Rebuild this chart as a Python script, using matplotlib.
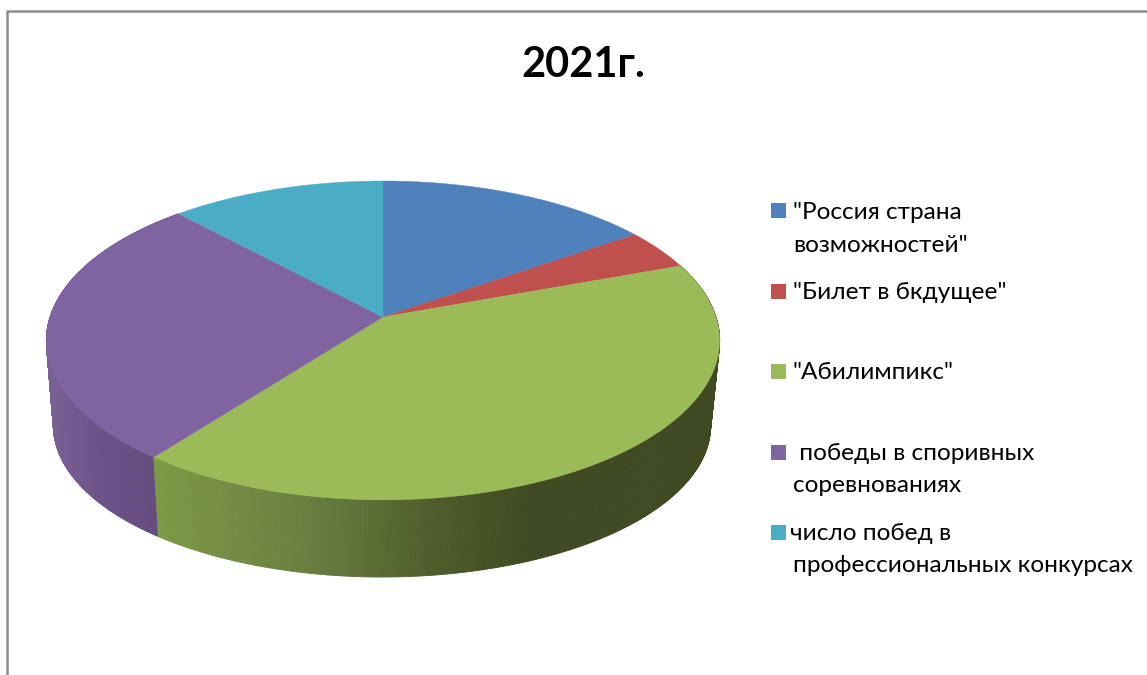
import numpy as np
import matplotlib
matplotlib.use("Agg")
import matplotlib.pyplot as plt
from matplotlib.collections import PolyCollection
from matplotlib.colors import to_rgb
from matplotlib.patches import Rectangle

title = "2021г."
categories = ['"Россия страна\nвозможностей"', '"Билет в бкдущее"', '"Абилимпикс"',
              ' победы в споривных\nсоревнованиях', 'число побед в\nпрофессиональных конкурсах']
values = [15.3, 4.1, 41.0, 27.7, 11.9]
colors = ['#4f81bd', '#c0504d', '#9bbb59', '#8064a2', '#4bacc6']

FONT = ['Lato', 'Open Sans', 'DejaVu Sans']
W, H = 1147, 675
fig = plt.figure(figsize=(W / 100, H / 100), dpi=100)
ax = fig.add_axes([0, 0, 1, 1])
ax.set_xlim(0, W); ax.set_ylim(H, 0); ax.axis('off')

CX, CY, A, B, K = 383.0, 317.0, 333.0, 156.0, 0.147
CX2, CY2, A2, B2 = 382.0, 403.5, 325.0, 148.0

def project(theta, r=1.0, cx=CX, cy=CY, a=A, b=B):
    u, v = r * np.sin(theta), r * np.cos(theta)
    d = 1 + K * v
    return cx + a * u / d, cy - b * v / d

side_stops = {
    2: ([152, 300, 430, 530, 720], ['#7d9a45', '#6b8040', '#4f5d2b', '#3f4a22', '#3f4a22']),
    3: ([46, 100, 157], ['#7a6296', '#6c5287', '#654c80']),
}

def side_color(i, x):
    xs, cs = side_stops[i]
    rgb = np.array([to_rgb(c) for c in cs])
    return tuple(np.interp(x, xs, rgb[:, k]) for k in range(3))

edges = np.cumsum([0] + values) / sum(values) * 2 * np.pi

for i in (3, 2):
    ts = np.linspace(edges[i], edges[i + 1], 400)
    polys, cols = [], []
    for t0, t1 in zip(ts[:-1], ts[1:]):
        x0, y0 = project(t0); x1, y1 = project(t1)
        x2, y2 = project(t1, cx=CX2, cy=CY2, a=A2, b=B2)
        x3, y3 = project(t0, cx=CX2, cy=CY2, a=A2, b=B2)
        polys.append([(x0, y0), (x1, y1), (x2, y2), (x3, y3)])
        cols.append(side_color(i, (x0 + x1 + x2 + x3) / 4))
    ax.add_collection(PolyCollection(polys, facecolors=cols, edgecolors=cols, linewidths=0.6, zorder=2))

for i, c in enumerate(colors):
    ts = np.linspace(edges[i], edges[i + 1], 300)
    xs, ys = project(ts)
    ax.fill(np.r_[CX, xs], np.r_[CY, ys], color=c, lw=0.3, zorder=3)

ax.plot([7, 7, W], [H, 11, 11], color='#8f8f8f', lw=1.8, solid_joinstyle='miter', zorder=1)

ax.text(583.5, 77, title, ha='center', va='baseline', fontsize=30, fontweight='bold', family=FONT, color='black')

box_y = [203, 284, 364, 445, 525]
base_y = [219, 299, 379, 460, 540]
first_x = [793, 793, 793, 793, 790]
for c, cat, by, ty, fx in zip(colors, categories, box_y, base_y, first_x):
    ax.add_patch(Rectangle((771, by), 15, 15, facecolor=c, edgecolor='none', zorder=4))
    for j, line in enumerate(cat.split('\n')):
        ax.text(fx if j == 0 else 793, ty + j * 32.5, line, ha='left', va='baseline',
                fontsize=17.6, family=FONT, color='black')

fig.savefig('out.png', dpi=100)
